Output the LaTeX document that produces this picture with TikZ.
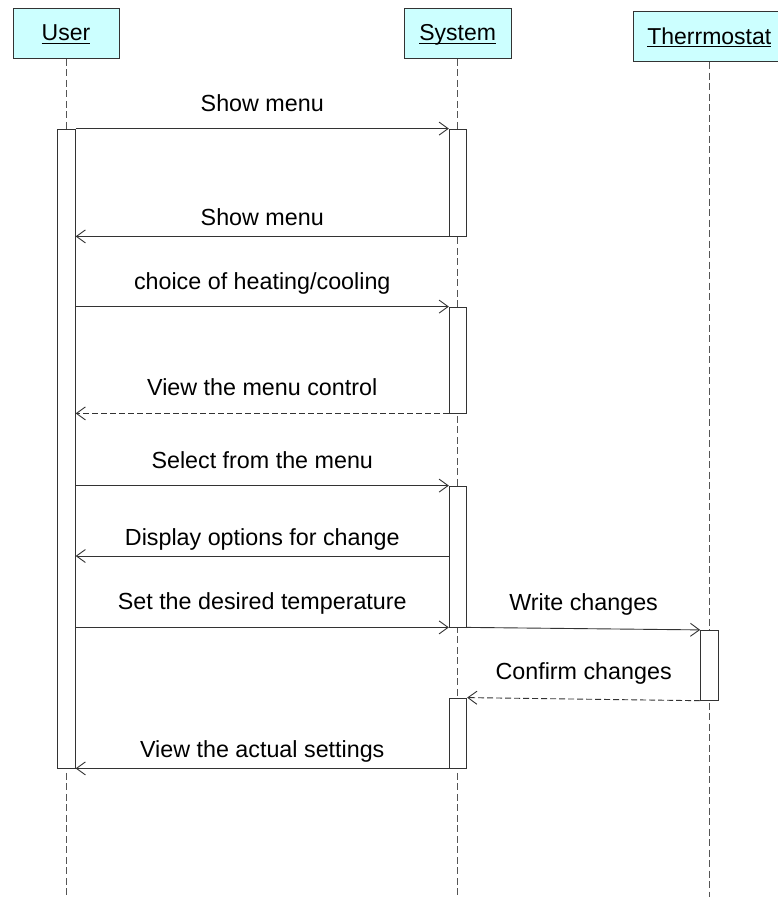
\documentclass[tikz,border=0pt]{standalone}
\usepackage{fontspec}
\setmainfont{Liberation Sans}
\usetikzlibrary{arrows.meta}
\definecolor{headfill}{HTML}{CCFFFF}
\definecolor{linegray}{HTML}{333333}
\definecolor{lifegray}{HTML}{555555}
% participant name with an underline at a fixed depth below the baseline
\newcommand\roletitle[1]{\setbox0\hbox{#1}\rlap{\usebox0}\rule[-3pt]{\wd0}{1.1pt}}
\tikzset{
  header/.style={draw=linegray, line width=0.9pt, fill=headfill, minimum height=50pt,
    inner sep=0pt, text height=17.8pt, text depth=3pt, font=\fontsize{23}{27}\selectfont},
  lifeline/.style={draw=lifegray, line width=0.8pt, dash pattern=on 7pt off 3.5pt},
  actbar/.style={draw=linegray, line width=0.8pt, fill=white, minimum width=17.5pt, inner sep=0pt},
  msg/.style={draw=linegray, line width=0.9pt, -{Straight Barb[length=9pt,width=13pt,line width=0.9pt]}},
  reply/.style={msg, dash pattern=on 6pt off 3pt},
  msglabel/.style={anchor=base, inner sep=0pt, yshift=17.5pt, font=\fontsize{23.3}{27}\selectfont},
  lowlabel/.style={msglabel, yshift=-6.5pt}
}
\begin{document}
\begin{tikzpicture}[x=1pt, y=-1pt]
\useasboundingbox (0,0) rectangle (778,897);
\fill[white] (0,0) rectangle (778,897);

% participants
\node[header, minimum width=106pt] (user) at (66,33.3) {\roletitle{User}};
\node[header, minimum width=107pt] (sys) at (457.7,33.3) {\roletitle{System}};
\node[header, minimum width=152pt] (therm) at (709.3,36.7) {\roletitle{Therrmostat}};
\coordinate (bottom) at (0,897);

% lifelines
\draw[lifeline] (user.south) -- (user.south |- bottom);
\draw[lifeline] (sys.south) -- (sys.south |- bottom);
\draw[lifeline] (therm.south) -- (therm.south |- bottom);

% activation bars
\node[actbar, minimum height=639pt] (ub) at (66.5,448.5) {};
\node[actbar, minimum height=107pt] (sb1) at (458,182.5) {};
\node[actbar, minimum height=106pt] (sb2) at (458,360) {};
\node[actbar, minimum height=141pt] (sb3) at (458,556.5) {};
\node[actbar, minimum height=70pt] (tb) at (709.3,665.3) {};
\node[actbar, minimum height=70pt] (sb4) at (458,733) {};
\coordinate (m6) at (0,556);

% messages
\draw[msg] (ub.east |- sb1.north) -- node[msglabel] (l1) {Show menu} (sb1.north west);
\draw[msg] (sb1.south west) -- node[lowlabel] (l2) {Show menu} (ub.east |- sb1.south);
\draw[msg] (ub.east |- sb2.north) -- node[msglabel] (l3) {choice of heating/cooling} (sb2.north west);
\draw[reply] (sb2.south west) -- node[msglabel] (l4) {View the menu control} (ub.east |- sb2.south);
\draw[msg] (ub.east |- sb3.north) -- node[msglabel] (l5) {Select from the menu} (sb3.north west);
\draw[msg] (sb3.west |- m6) -- node[lowlabel] (l6) {Display options for change} (ub.east |- m6);
\draw[msg] (ub.east |- sb3.south) -- node[msglabel] (l7) {Set the desired temperature} (sb3.south west);
\draw[msg] (sb3.south east) -- node[msglabel, yshift=1pt] (l8) {Write changes} (tb.north west);
\draw[reply] (tb.south west) -- node[msglabel, yshift=2pt] (l9) {Confirm changes} (sb4.north east);
\draw[msg] (sb4.south west) -- node[lowlabel] (l10) {View the actual settings} (ub.east |- sb4.south);
\end{tikzpicture}
\end{document}
